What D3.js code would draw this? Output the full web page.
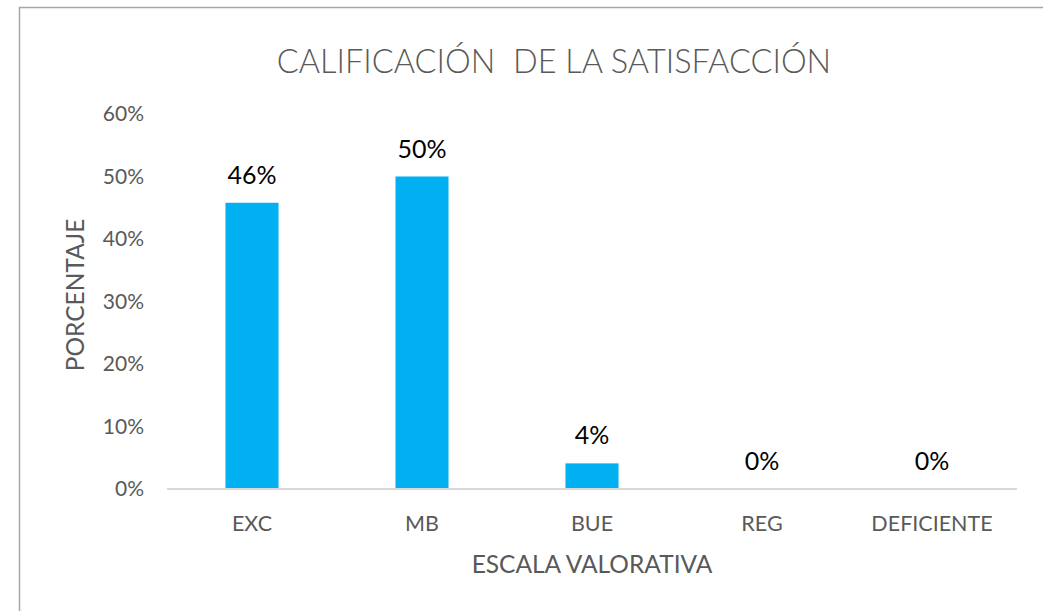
<!DOCTYPE html>
<html lang="es">
<head>
    <meta charset="UTF-8">
    <title>Calificación de la satisfacción</title>
    <script src="https://d3js.org/d3.v7.min.js"></script>
    <style>
        body { margin: 0; background: #fff; }
        text { font-family: Lato, "Open Sans", sans-serif; }
    </style>
</head>
<body>
    <div id="chart"></div>
    <script>
        // data
        const categories = ["EXC", "MB", "BUE", "REG", "DEFICIENTE"];
        const values = [0.458, 0.50, 0.041, 0, 0];
        const yTicks = [0, 0.1, 0.2, 0.3, 0.4, 0.5, 0.6];

        const W = 1043, H = 611;
        const plot = { left: 167, right: 1017, top: 114, bottom: 489 };

        const svg = d3.select("#chart")
            .append("svg")
            .attr("width", W)
            .attr("height", H);

        svg.append("rect")
            .attr("x", 19.5).attr("y", 7.5)
            .attr("width", W).attr("height", H)
            .attr("fill", "#fff")
            .attr("stroke", "#a6a6a6")
            .attr("stroke-width", 1.5);

        const x = d3.scaleBand()
            .domain(categories)
            .range([plot.left, plot.right])
            .paddingInner(0.688)
            .paddingOuter(0.344);

        const y = d3.scaleLinear()
            .domain([0, 0.6])
            .range([plot.bottom, plot.top]);

        const pct = d3.format(".0%");

        // y tick labels
        svg.selectAll(".ytick")
            .data(yTicks)
            .enter()
            .append("text")
            .attr("class", "ytick")
            .attr("x", 144)
            .attr("y", d => y(d))
            .attr("dy", "0.35em")
            .attr("text-anchor", "end")
            .attr("font-size", 21)
            .attr("fill", "#595959")
            .text(d => pct(d));

        // bars
        const data = categories.map((c, i) => ({ cat: c, val: values[i] }));

        svg.selectAll(".bar")
            .data(data)
            .enter()
            .append("rect")
            .attr("class", "bar")
            .attr("x", d => x(d.cat))
            .attr("y", d => y(d.val))
            .attr("width", x.bandwidth())
            .attr("height", d => plot.bottom - y(d.val))
            .attr("fill", "#00b0f0");

        // baseline
        svg.append("line")
            .attr("x1", plot.left).attr("x2", plot.right)
            .attr("y1", plot.bottom).attr("y2", plot.bottom)
            .attr("stroke", "#d9d9d9")
            .attr("stroke-width", 2);

        // value labels
        svg.selectAll(".vlabel")
            .data(data)
            .enter()
            .append("text")
            .attr("class", "vlabel")
            .attr("x", d => x(d.cat) + x.bandwidth() / 2)
            .attr("y", d => y(d.val) - 19)
            .attr("text-anchor", "middle")
            .attr("font-size", 25)
            .attr("fill", "#000")
            .text(d => pct(d.val));

        // category labels
        svg.selectAll(".xlabel")
            .data(categories)
            .enter()
            .append("text")
            .attr("class", "xlabel")
            .attr("x", d => x(d) + x.bandwidth() / 2)
            .attr("y", 531)
            .attr("text-anchor", "middle")
            .attr("font-size", 21.5)
            .attr("fill", "#595959")
            .text(d => d);

        // axis titles
        svg.append("text")
            .attr("x", (plot.left + plot.right) / 2)
            .attr("y", 573)
            .attr("text-anchor", "middle")
            .attr("font-size", 24.5)
            .attr("fill", "#595959")
            .text("ESCALA VALORATIVA");

        svg.append("text")
            .attr("transform", "translate(84,295) rotate(-90)")
            .attr("text-anchor", "middle")
            .attr("font-size", 24.5)
            .attr("fill", "#595959")
            .text("PORCENTAJE");

        // title (keeps the double space of the original)
        svg.append("text")
            .attr("x", 554)
            .attr("y", 73)
            .attr("text-anchor", "middle")
            .attr("font-size", 32.5)
            .attr("font-weight", 300)
            .attr("fill", "#595959")
            .style("white-space", "pre")
            .text("CALIFICACIÓN  DE LA SATISFACCIÓN");
    </script>
</body>
</html>
